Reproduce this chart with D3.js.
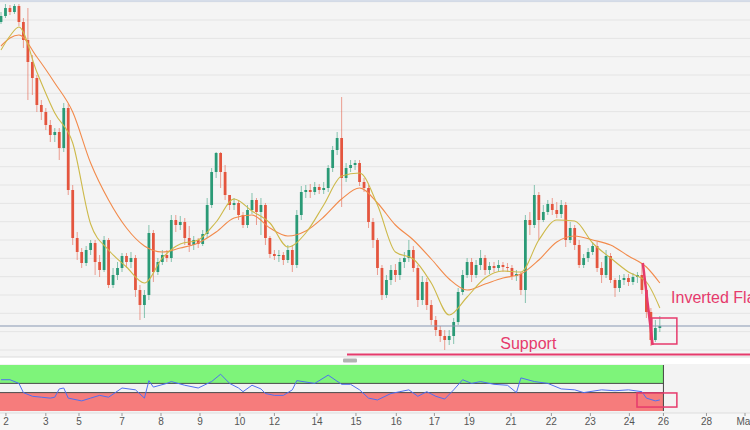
<!DOCTYPE html>
<html><head><meta charset="utf-8">
<script src="https://cdn.jsdelivr.net/npm/d3@7"></script>
<style>html,body{margin:0;padding:0;background:#f7f7f7;overflow:hidden}svg{display:block}</style>
</head><body><div id="chart"></div>
<script>
// ---------- DATA ----------
const open  = [1.1078,1.1084,1.1092,1.1088,1.1094,1.1078,1.1060,1.1038,1.1022,1.0995,1.0988,1.0975,1.0965,1.0968,1.0952,1.0992,1.0910,1.0862,1.0848,1.0837,1.0850,1.0857,1.0838,1.0830,1.0860,1.0815,1.0825,1.0832,1.0844,1.0838,1.0842,1.0810,1.0795,1.0805,1.0867,1.0828,1.0838,1.0845,1.0842,1.0880,1.0875,1.0878,1.0862,1.0855,1.0860,1.0856,1.0866,1.0895,1.0928,1.0947,1.0928,1.0905,1.0895,1.0897,1.0885,1.0875,1.0890,1.0900,1.0888,1.0895,1.0862,1.0846,1.0844,1.0845,1.0840,1.0850,1.0835,1.0885,1.0908,1.0910,1.0908,1.0913,1.0910,1.0912,1.0932,1.0950,1.0962,1.0922,1.0932,1.0935,1.0937,1.0918,1.0912,1.0878,1.0860,1.0832,1.0805,1.0820,1.0830,1.0825,1.0838,1.0842,1.0850,1.0832,1.0800,1.0818,1.0795,1.0780,1.0770,1.0764,1.0760,1.0764,1.0778,1.0808,1.0825,1.0838,1.0825,1.0835,1.0842,1.0830,1.0834,1.0832,1.0835,1.0833,1.0832,1.0824,1.0826,1.0810,1.0880,1.0875,1.0905,1.0880,1.0888,1.0896,1.0890,1.0886,1.0895,1.0860,1.0872,1.0855,1.0835,1.0842,1.0848,1.0854,1.0832,1.0825,1.0844,1.0820,1.0812,1.0820,1.0822,1.0818,1.0823,1.0825,1.0810,1.0788,1.0760,1.0772];
const high  = [1.1088,1.1096,1.1095,1.1096,1.1096,1.1082,1.1092,1.1045,1.1025,1.1000,1.0992,1.0980,1.0972,1.0972,1.0997,1.0996,1.0915,1.0868,1.0852,1.0854,1.0860,1.0860,1.0845,1.0864,1.0862,1.0832,1.0838,1.0847,1.0847,1.0848,1.0845,1.0815,1.0810,1.0875,1.0870,1.0842,1.0850,1.0850,1.0885,1.0885,1.0884,1.0882,1.0874,1.0864,1.0862,1.0870,1.0902,1.0932,1.0948,1.0948,1.0935,1.0905,1.0902,1.0900,1.0888,1.0895,1.0907,1.0902,1.0902,1.0897,1.0864,1.0850,1.0850,1.0848,1.0855,1.0855,1.0890,1.0914,1.0915,1.0916,1.0918,1.0916,1.0918,1.0935,1.0954,1.0968,1.1003,1.0937,1.0940,1.0940,1.0940,1.0922,1.0915,1.0882,1.0862,1.0835,1.0825,1.0835,1.0836,1.0842,1.0848,1.0860,1.0854,1.0835,1.0824,1.0822,1.0800,1.0784,1.0774,1.0770,1.0770,1.0782,1.0812,1.0830,1.0842,1.0842,1.0840,1.0850,1.0845,1.0838,1.0838,1.0840,1.0838,1.0837,1.0835,1.0830,1.0828,1.0885,1.0888,1.0915,1.0908,1.0895,1.0900,1.0902,1.0898,1.0900,1.0898,1.0878,1.0875,1.0860,1.0846,1.0852,1.0858,1.0858,1.0838,1.0850,1.0847,1.0822,1.0825,1.0826,1.0826,1.0827,1.0828,1.0837,1.0814,1.0792,1.0780,1.0784];
const low   = [1.1076,1.1082,1.1085,1.1086,1.1074,1.1052,1.1000,1.1005,1.0988,1.0980,1.0970,1.0958,1.0958,1.0940,1.0948,1.0905,1.0855,1.0840,1.0832,1.0834,1.0845,1.0825,1.0823,1.0828,1.0812,1.0812,1.0820,1.0828,1.0832,1.0832,1.0803,1.0780,1.0782,1.0800,1.0818,1.0825,1.0835,1.0838,1.0838,1.0868,1.0870,1.0855,1.0848,1.0850,1.0852,1.0854,1.0862,1.0892,1.0922,1.0912,1.0900,1.0890,1.0890,1.0880,1.0872,1.0872,1.0886,1.0875,1.0865,1.0855,1.0842,1.0840,1.0838,1.0835,1.0837,1.0828,1.0832,1.0880,1.0902,1.0902,1.0905,1.0906,1.0906,1.0908,1.0928,1.0945,1.0893,1.0918,1.0928,1.0930,1.0914,1.0908,1.0872,1.0852,1.0825,1.0800,1.0802,1.0815,1.0818,1.0820,1.0832,1.0838,1.0828,1.0793,1.0795,1.0790,1.0775,1.0764,1.0758,1.0750,1.0755,1.0756,1.0775,1.0805,1.0822,1.0818,1.0822,1.0830,1.0825,1.0826,1.0828,1.0829,1.0828,1.0828,1.0820,1.0819,1.0805,1.0797,1.0865,1.0872,1.0860,1.0878,1.0885,1.0885,1.0882,1.0882,1.0853,1.0857,1.0850,1.0832,1.0832,1.0838,1.0845,1.0828,1.0817,1.0822,1.0817,1.0803,1.0808,1.0815,1.0814,1.0815,1.0817,1.0806,1.0782,1.0754,1.0758,1.0768];
const close = [1.1084,1.1092,1.1088,1.1094,1.1078,1.1060,1.1038,1.1022,1.0995,1.0988,1.0975,1.0965,1.0968,1.0952,1.0992,1.0910,1.0862,1.0848,1.0837,1.0850,1.0857,1.0838,1.0830,1.0860,1.0815,1.0825,1.0832,1.0844,1.0838,1.0842,1.0810,1.0795,1.0805,1.0867,1.0828,1.0838,1.0845,1.0842,1.0880,1.0875,1.0878,1.0862,1.0855,1.0860,1.0856,1.0866,1.0895,1.0928,1.0947,1.0928,1.0905,1.0895,1.0897,1.0885,1.0875,1.0890,1.0900,1.0888,1.0895,1.0862,1.0846,1.0844,1.0845,1.0840,1.0850,1.0835,1.0885,1.0908,1.0910,1.0908,1.0913,1.0910,1.0912,1.0932,1.0950,1.0962,1.0922,1.0932,1.0935,1.0937,1.0918,1.0912,1.0878,1.0860,1.0832,1.0805,1.0820,1.0830,1.0825,1.0838,1.0842,1.0850,1.0832,1.0800,1.0818,1.0795,1.0780,1.0770,1.0764,1.0760,1.0764,1.0778,1.0808,1.0825,1.0838,1.0825,1.0835,1.0842,1.0830,1.0834,1.0832,1.0835,1.0833,1.0832,1.0824,1.0826,1.0810,1.0880,1.0875,1.0905,1.0880,1.0888,1.0896,1.0890,1.0886,1.0895,1.0860,1.0872,1.0855,1.0835,1.0842,1.0848,1.0854,1.0832,1.0825,1.0844,1.0820,1.0812,1.0820,1.0822,1.0818,1.0823,1.0825,1.0810,1.0788,1.0760,1.0772,1.0774];

const maIdx  = [0,2,4,8,12,16,20,24,28,32,36,40,44,48,52,56,60,64,68,72,76,80,84,88,92,96,100,104,108,112,116,120,124,128,132,136,140,144,147];
const maFast = [1.1050,1.1064,1.1073,1.1028,1.0987,1.0957,1.0876,1.0850,1.0833,1.0817,1.0842,1.0856,1.0860,1.0878,1.0901,1.0889,1.0877,1.0853,1.0867,1.0895,1.0924,1.0927,1.0895,1.0848,1.0841,1.0817,1.0785,1.0803,1.0822,1.0829,1.0828,1.0860,1.0880,1.0879,1.0857,1.0842,1.0828,1.0818,1.0792];
const maSlow = [1.1054,1.1062,1.1065,1.1043,1.1017,1.0988,1.0937,1.0900,1.0872,1.0854,1.0848,1.0852,1.0857,1.0868,1.0882,1.0885,1.0872,1.0864,1.0869,1.0883,1.0901,1.0912,1.0897,1.0875,1.0860,1.0841,1.0821,1.0810,1.0816,1.0822,1.0826,1.0840,1.0858,1.0864,1.0860,1.0855,1.0844,1.0833,1.0817];

const rsiIdx = [0,2,4,5,7,9,11,12,13,14,15,17,18,20,22,24,27,30,32,33,34,37,38,41,44,47,49,51,53,54,56,58,59,61,63,65,66,70,73,76,78,80,82,84,87,89,91,93,95,97,99,101,103,105,107,110,113,115,116,119,122,125,128,130,134,137,140,143,144,146,147];
const rsiVal = [59,59,55,45,41,40,39,40,49,50,39,37,36,39,42,40,50,48,39,58,51,55,57,53,50,57,65,55,50,46,53,49,44,42,42,48,58,55,64,54,54,48,39,37,44,46,48,41,46,41,38,48,59,55,57,54,53,45,61,57,55,49,48,45,48,47,48,46,39,36,37];
const rsiLevels = [45, 55];

const tickLabels = ["2","3","5","7","8","9","10","12","14","15","16","17","19","21","22","23","24","26","28","Mar"];
const tickIdx    = [1.1,10,17.4,27,35.7,44.4,53.3,61,70.5,79.2,88.2,96.7,104.5,113.8,122.8,131.5,140.2,147.8,157.4,166];

const supportLevel = 1.07455;
const supportFromIdx = 77.2;
const flagPole = [[143.2, 1.0837], [145.4, 1.0755]];
const flagBox  = [[145.2, 1.0782], [150.8, 1.0756]];
const rsiBox   = [[141.9, 44.6], [150.8, 29.3]];
const labels = [{text:"Support", i:111.4, p:1.0751}, {text:"Inverted Flag", i:149.5, p:1.0797}];

// ---------- CHART ----------
const W = 750, H = 430;
const pink = "#e63a6c", up = "#2a9a76", dn = "#e4553e";
const svg = d3.select("#chart").append("svg").attr("width", W).attr("height", H);

const x = d3.scaleLinear().domain([0, 166]).range([1, 745]);
const y = d3.scaleLinear().domain([1.0743, 1.1100]).range([357, 0]);
const yr = d3.scaleLinear().domain([25, 75]).range([411, 365]);

// backgrounds
svg.append("rect").attr("x",0).attr("y",0).attr("width",W).attr("height",H).attr("fill","#f7f7f7");
svg.append("rect").attr("x",0).attr("y",0).attr("width",W).attr("height",357).attr("fill","#f4f4f4");
svg.append("rect").attr("x",0).attr("y",357).attr("width",W).attr("height",7).attr("fill","#ffffff");
svg.append("rect").attr("x",0).attr("y",364).attr("width",W).attr("height",49).attr("fill","#f3f3f3");

// price grid
const gridLevels = d3.range(0, 20).map(k => 1.10983 - k * 0.001833);
svg.append("g").selectAll("line").data(gridLevels).join("line")
  .attr("x1",0).attr("x2",W).attr("y1",d=>y(d)).attr("y2",d=>y(d))
  .attr("stroke","#e4e4e4").attr("stroke-width",1);
svg.append("line").attr("x1",0).attr("x2",W).attr("y1",1).attr("y2",1).attr("stroke","#cdd6e6").attr("stroke-width",1.5);
svg.append("line").attr("x1",0).attr("x2",W).attr("y1",357).attr("y2",357).attr("stroke","#dcdcdc");

// candles
const n = close.length;
const idx = d3.range(n);
const bw = (x(1) - x(0)) * 0.62;
const cg = svg.append("g");
cg.selectAll("line").data(idx).join("line")
  .attr("x1",i=>x(i)).attr("x2",i=>x(i))
  .attr("y1",i=>y(high[i])).attr("y2",i=>y(low[i]))
  .attr("stroke",i=>close[i]>=open[i]?up:dn).attr("stroke-opacity",0.55).attr("stroke-width",1);
cg.selectAll("rect").data(idx).join("rect")
  .attr("x",i=>x(i)-bw/2).attr("width",bw)
  .attr("y",i=>y(Math.max(open[i],close[i])))
  .attr("height",i=>Math.max(1, Math.abs(y(open[i])-y(close[i]))))
  .attr("fill",i=>close[i]>=open[i]?up:dn);

// moving averages
const maLine = arr => d3.line().x((d,k)=>x(maIdx[k])).y(d=>y(d)).curve(d3.curveMonotoneX)(arr);
svg.append("path").attr("d",maLine(maSlow)).attr("fill","none").attr("stroke","#f28a4b").attr("stroke-width",1.1);
svg.append("path").attr("d",maLine(maFast)).attr("fill","none").attr("stroke","#cdb94a").attr("stroke-width",1.1);

// current price line
svg.append("line").attr("x1",0).attr("x2",W).attr("y1",y(close[n-1])).attr("y2",y(close[n-1]))
  .attr("stroke","#8797b2").attr("stroke-width",1);

// annotations
svg.append("line").attr("x1",x(supportFromIdx)).attr("x2",W).attr("y1",y(supportLevel)).attr("y2",y(supportLevel))
  .attr("stroke",pink).attr("stroke-width",2);
svg.append("line").attr("x1",x(flagPole[0][0])).attr("y1",y(flagPole[0][1]))
  .attr("x2",x(flagPole[1][0])).attr("y2",y(flagPole[1][1])).attr("stroke",pink).attr("stroke-width",2.5);
svg.append("rect").attr("x",x(flagBox[0][0])).attr("y",y(flagBox[0][1]))
  .attr("width",x(flagBox[1][0])-x(flagBox[0][0])).attr("height",y(flagBox[1][1])-y(flagBox[0][1]))
  .attr("fill","none").attr("stroke",pink).attr("stroke-width",1.5);
svg.append("g").selectAll("text").data(labels).join("text")
  .attr("x",d=>x(d.i)).attr("y",d=>y(d.p)).text(d=>d.text)
  .attr("fill",pink).attr("font-family","'Liberation Sans', Arial, sans-serif").attr("font-size",16);

// separator handle
svg.append("rect").attr("x",343).attr("y",358.5).attr("width",14).attr("height",4).attr("rx",1).attr("fill","#b3b3b3");

// RSI panel
const bandEnd = x(147.8);
svg.append("rect").attr("x",0).attr("y",yr(75)).attr("width",bandEnd).attr("height",yr(55)-yr(75)).attr("fill","#7ef47a");
svg.append("rect").attr("x",0).attr("y",yr(45)).attr("width",bandEnd).attr("height",yr(25)-yr(45)).attr("fill","#f67c7c");
svg.append("g").selectAll("line").data(rsiLevels).join("line")
  .attr("x1",0).attr("x2",bandEnd).attr("y1",d=>yr(d)).attr("y2",d=>yr(d))
  .attr("stroke","#4a4a4a").attr("stroke-width",1);
svg.append("line").attr("x1",bandEnd).attr("x2",bandEnd).attr("y1",yr(75)).attr("y2",yr(25)).attr("stroke","#444");
const rsiLine = d3.line().x((d,k)=>x(rsiIdx[k])).y(d=>yr(d));
svg.append("path").attr("d",rsiLine(rsiVal)).attr("fill","none").attr("stroke","#4f6ff2").attr("stroke-width",1);
svg.append("rect").attr("x",x(rsiBox[0][0])).attr("y",yr(rsiBox[0][1]))
  .attr("width",x(rsiBox[1][0])-x(rsiBox[0][0])).attr("height",yr(rsiBox[1][1])-yr(rsiBox[0][1]))
  .attr("fill","none").attr("stroke",pink).attr("stroke-width",1.5);

// x axis
svg.append("line").attr("x1",0).attr("x2",W).attr("y1",413).attr("y2",413).attr("stroke","#dddddd");
const ax = svg.append("g");
ax.selectAll("line").data(tickIdx).join("line")
  .attr("x1",d=>x(d)).attr("x2",d=>x(d)).attr("y1",413).attr("y2",416).attr("stroke","#999");
ax.selectAll("text").data(tickLabels).join("text")
  .attr("x",(d,k)=>x(tickIdx[k])).attr("y",425).attr("text-anchor","middle")
  .attr("font-family","'Liberation Sans', Arial, sans-serif").attr("font-size",10).attr("fill","#555").text(d=>d);
</script></body></html>
